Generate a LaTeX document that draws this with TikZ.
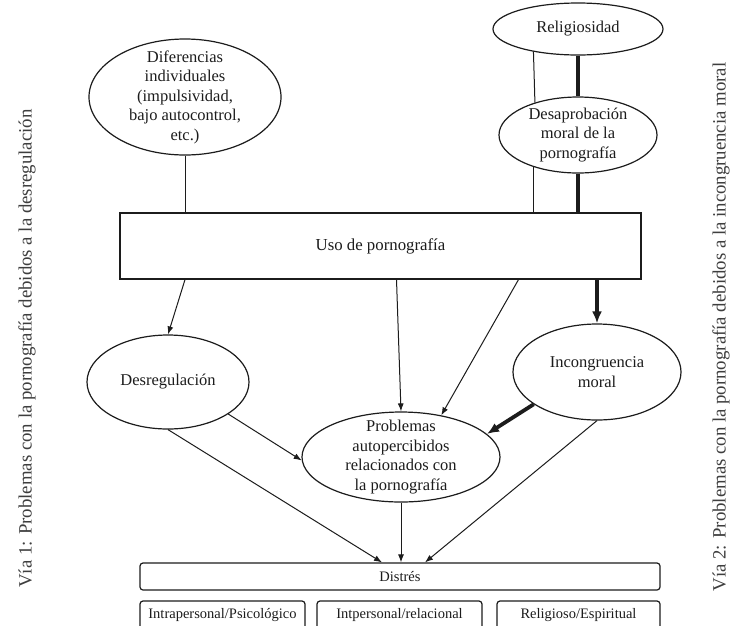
\documentclass[tikz,border=0pt]{standalone}
\usepackage{fontspec}
\setmainfont{Liberation Serif}
\usetikzlibrary{arrows.meta,shapes.geometric}
\definecolor{ink}{HTML}{1C1C1C}
\tikzset{
  oval/.style={ellipse,draw=ink,line width=1.2pt,inner sep=0pt,align=center,
               text=ink,font=\fontsize{16.5}{19.5}\selectfont},
  usebox/.style={rectangle,draw=ink,line width=1.2pt,minimum width=521pt,
                 minimum height=66pt,text=ink,font=\fontsize{16.8}{19.5}\selectfont},
  dimbox/.style={rectangle,rounded corners=3pt,draw=ink,line width=1.2pt,
                 minimum height=28pt,text=ink,font=\fontsize{14.5}{17}\selectfont},
  link/.style={draw=ink,line width=1pt},
  heavy/.style={draw=ink,line width=3.8pt},
  flow/.style={link,-{Latex[length=8pt,width=6pt]}},
  heavyflow/.style={heavy,-{Latex[length=12pt,width=10pt]}},
  vialabel/.style={rotate=90,text=ink!85,font=\fontsize{18.8}{20}\selectfont}
}

\begin{document}
\begin{tikzpicture}[x=1pt,y=-1pt]
  \fill[white] (0,0) rectangle (730,625);
  \clip (0,0) rectangle (730,625);
  % ovals
  \node[oval,minimum width=192pt,minimum height=116pt,inner ysep=-8pt] (dif) at (185,97)
    {Diferencias\\individuales\\(impulsividad,\\bajo autocontrol,\\etc.)};
  \node[oval,minimum width=170pt,minimum height=52pt] (rel) at (578,29) {Religiosidad};
  \node[oval,minimum width=158pt,minimum height=76pt,inner ysep=-4pt] (des) at (578,135)
    {Desaprobación\\moral de la\\pornografía};
  \node[usebox] (uso) at (380.5,246) {Uso de pornografía};
  \node[oval,minimum width=162pt,minimum height=94pt] (desr) at (168,382) {Desregulación};
  \node[oval,minimum width=168pt,minimum height=96pt] (inc) at (597,372) {Incongruencia\\moral};
  \node[oval,minimum width=198pt,minimum height=90pt,inner ysep=-7pt] (prob) at (401,457)
    {Problemas\\autopercibidos\\relacionados con\\la pornografía};
  % distress boxes
  \node[dimbox,minimum width=520pt,minimum height=27pt] (dis) at (400,576.5) {Distrés};
  \node[dimbox,minimum width=165pt] (intra) at (222.5,615) {Intrapersonal/Psicológico};
  \node[dimbox,minimum width=165pt] (inter) at (399.5,615) {Intpersonal/relacional};
  \node[dimbox,minimum width=163pt] (relig) at (578.5,615) {Religioso/Espiritual};
  % side labels
  \node[vialabel] (via1) at (27,348.5) {Vía 1: Problemas con la pornografía debidos a la desregulación};
  \node[vialabel] (via2) at (721,327) {Vía 2: Problemas con la pornografía debidos a la incongruencia moral};

  % links
  \draw[link] (dif.south) -- (dif.south |- uso.north);
  \draw[link] (rel.207.5) -- (des.143.4);
  \draw[heavy] (rel.south) -- (des.north);
  \draw[link] (des.216.6) -- (des.216.6 |- uso.north);
  \draw[heavy] (des.south) -- (des.south |- uso.north);
  \draw[heavyflow] (inc.north |- uso.south) -- (inc.north);
  \draw[flow] (uso.south -| dif.south) -- (desr.north);
  \draw[flow] ([xshift=16pt]uso.south) -- (prob.north);
  \draw[flow] ([xshift=138pt]uso.south) -- (prob.46);
  \draw[heavyflow] (inc.207) -- (prob.15);
  \draw[flow] (desr.332) -- (prob.182);
  \draw[flow] (desr.south) -- ([xshift=-18pt]dis.north);
  \draw[flow] (prob.south) -- (prob.south |- dis.north);
  \draw[flow] (inc.south) -- ([xshift=25pt]dis.north);
\end{tikzpicture}
\end{document}
